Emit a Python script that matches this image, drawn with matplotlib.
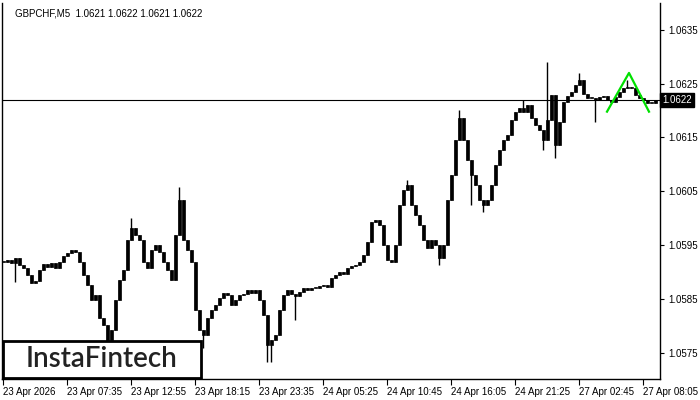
import matplotlib
matplotlib.use('Agg')
import matplotlib.pyplot as plt
from matplotlib.patches import Rectangle
from matplotlib.transforms import blended_transform_factory

# GBPCHF M5 closes (one value per drawn candle)
closes = [
    1.05919, 1.05922, 1.05917, 1.05926, 1.05913, 1.05908, 1.05895, 1.05880, 1.05883, 1.05904,
    1.05915, 1.05909, 1.05917, 1.05908, 1.05919, 1.05930, 1.05935, 1.05941, 1.05937, 1.05919,
    1.05895, 1.05876, 1.05848, 1.05857, 1.05815, 1.05802, 1.05774, 1.05792, 1.05848, 1.05885,
    1.05904, 1.05960, 1.05982, 1.05969, 1.05960, 1.05919, 1.05908, 1.05941, 1.05950, 1.05937,
    1.05919, 1.05904, 1.05885, 1.05969, 1.06034, 1.05960, 1.05941, 1.05919, 1.05829, 1.05792,
    1.05783, 1.05815, 1.05829, 1.05839, 1.05852, 1.05861, 1.05857, 1.05839, 1.05848, 1.05857,
    1.05859, 1.05867, 1.05861, 1.05867, 1.05848, 1.05820, 1.05764, 1.05774, 1.05783, 1.05829,
    1.05857, 1.05867, 1.05859, 1.05856, 1.05863, 1.05870, 1.05867, 1.05870, 1.05870, 1.05874,
    1.05876, 1.05872, 1.05889, 1.05895, 1.05900, 1.05896, 1.05908, 1.05911, 1.05913, 1.05919,
    1.05932, 1.05956, 1.05993, 1.05997, 1.05988, 1.05950, 1.05922, 1.05919, 1.05950, 1.06025,
    1.06053, 1.06062, 1.06025, 1.06006, 1.05988, 1.05960, 1.05945, 1.05960, 1.05950, 1.05926,
    1.05950, 1.06034, 1.06081, 1.06146, 1.06187, 1.06146, 1.06108, 1.06081, 1.06062, 1.06034,
    1.06025, 1.06034, 1.06062, 1.06099, 1.06127, 1.06146, 1.06155, 1.06183, 1.06198, 1.06205,
    1.06198, 1.06211, 1.06187, 1.06174, 1.06164, 1.06146, 1.06183, 1.06229, 1.06136, 1.06179,
    1.06216, 1.06227, 1.06235, 1.06248, 1.06257, 1.06231, 1.06224, 1.06224, 1.06220, 1.06226,
    1.06227, 1.06220, 1.06216, 1.06226, 1.06235, 1.06242, 1.06244, 1.06242, 1.06229, 1.06224,
    1.06220, 1.06214, 1.06214, 1.06220,
]

# wick extremes that stick out beyond the bodies
spike_high_idx = [32, 44, 101, 114, 130, 136, 144, 156]
spike_high = [1.06001, 1.06058, 1.06071, 1.06201, 1.06220, 1.06291, 1.06270, 1.06257]
spike_low_idx = [3, 26, 50, 66, 67, 73, 109, 117, 120, 135, 138, 148]
spike_low = [1.05881, 1.05751, 1.05759, 1.05733, 1.05733, 1.05811, 1.05913, 1.06025,
             1.06012, 1.06127, 1.06112, 1.06179]

# pattern drawn in green (bar index, price)
pattern_idx = [151, 156.5, 161.5]
pattern_price = [1.06198, 1.06270, 1.06198]

last_price = 1.0622
title = 'GBPCHF,M5  1.0621 1.0622 1.0621 1.0622'

xtick_pos = [0, 16, 32, 48, 64, 80, 96, 112, 128, 144, 160]
xtick_labels = ['23 Apr 2026', '23 Apr 07:35', '23 Apr 12:55', '23 Apr 18:15',
                '23 Apr 23:35', '24 Apr 05:25', '24 Apr 10:45', '24 Apr 16:05',
                '24 Apr 21:25', '27 Apr 02:45', '27 Apr 08:05']
ytick_pos = [1.0575, 1.0585, 1.0595, 1.0605, 1.0615, 1.0625, 1.0635]

font = 'Liberation Sans'

fig = plt.figure(figsize=(7, 4), dpi=100)
ax = fig.add_axes([2 / 700, 21 / 400, 658 / 700, 376 / 400])

opens = [closes[0]] + closes[:-1]
highs = [max(o, c) for o, c in zip(opens, closes)]
lows = [min(o, c) for o, c in zip(opens, closes)]
for i, p in zip(spike_high_idx, spike_high):
    highs[i] = max(highs[i], p)
for i, p in zip(spike_low_idx, spike_low):
    lows[i] = min(lows[i], p)

xs = list(range(len(closes)))
ax.vlines(xs, lows, highs, color='black', lw=1, zorder=2)
bottoms = [min(o, c) for o, c in zip(opens, closes)]
heights = [max(abs(c - o), 0.000015) for o, c in zip(opens, closes)]
ax.bar(xs, heights, bottom=bottoms, width=0.75, color='black', edgecolor='black',
       linewidth=0.5, zorder=3)

ax.axhline(last_price, color='black', lw=0.8, zorder=1)
ax.plot(pattern_idx, pattern_price, color='#00e000', lw=1.6, zorder=4)

ax.set_xlim(-0.25, 164.25)
ax.set_ylim(1.05701, 1.06400)

ax.yaxis.tick_right()
ax.set_yticks(ytick_pos)
ax.set_yticklabels(['%.4f' % v for v in ytick_pos], fontsize=7, family=font)
ax.tick_params(axis='y', direction='out', length=3, pad=3, width=0.8)
ax.set_xticks(xtick_pos)
ax.set_xticklabels(xtick_labels, fontsize=7, family=font)
for lab in ax.get_xticklabels():
    lab.set_ha('left')
ax.tick_params(axis='x', direction='out', length=4, pad=2, width=0.8)
for s in ax.spines.values():
    s.set_linewidth(1)
ax.spines['top'].set_visible(False)

# last price tag on the right axis
trans = blended_transform_factory(ax.transAxes, ax.transData)
ax.text(1.003, last_price, '1.0622', transform=trans, fontsize=7, family=font,
        color='white', va='center', ha='left',
        bbox=dict(boxstyle='square,pad=0.2', fc='black', ec='black'))

ax.text(0.02, 0.985, title, transform=ax.transAxes, fontsize=7, family=font,
        va='top', ha='left')

# logo box
fig.add_artist(Rectangle((3 / 700, 22 / 400), 198 / 700, 37 / 400, transform=fig.transFigure,
                         facecolor='white', edgecolor='black', linewidth=2, zorder=10))
fig.text(102 / 700, 1 - 359 / 400, 'InstaFintech', fontsize=20, family='Lato',
         fontweight='semibold', color='#222222', ha='center', va='center', zorder=11)

fig.savefig('out.png', dpi=100)
